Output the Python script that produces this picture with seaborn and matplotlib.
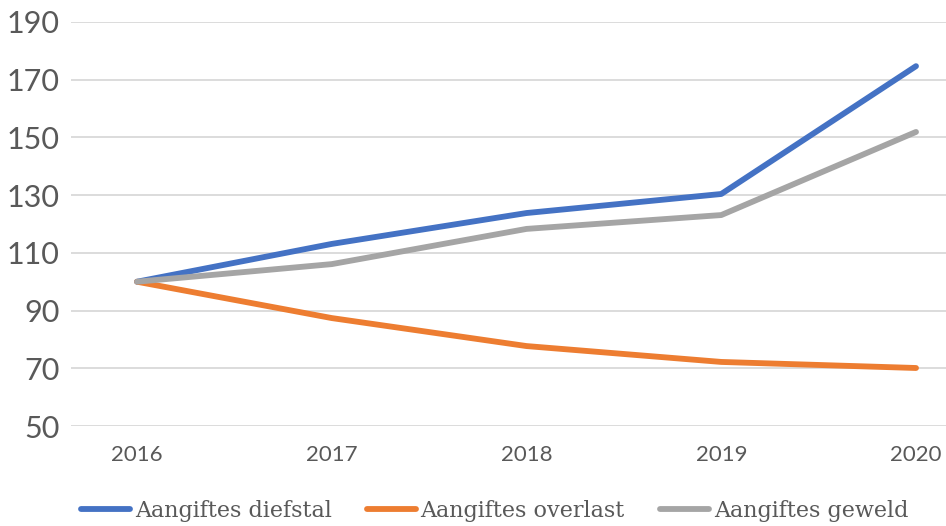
import pandas as pd
import seaborn as sns
import matplotlib.pyplot as plt

years = [2016, 2017, 2018, 2019, 2020]
diefstal = [100, 113.1, 123.8, 130.4, 174.7]
overlast = [100, 87.4, 77.7, 72.2, 70.1]
geweld = [100, 106.1, 118.3, 123.1, 151.9]
series_names = ['Aangiftes diefstal', 'Aangiftes overlast', 'Aangiftes geweld']
colors = ['#4472C4', '#ED7D31', '#A5A5A5']

df = pd.DataFrame({
    'jaar': years * 3,
    'waarde': diefstal + overlast + geweld,
    'reeks': [series_names[0]] * 5 + [series_names[1]] * 5 + [series_names[2]] * 5,
})

sns.set_style('white')
plt.rcParams['font.family'] = ['Lato', 'DejaVu Sans']
txt = '#595959'

fig = plt.figure(figsize=(9.46, 5.26), dpi=100)
ax = fig.add_axes([71 / 946, 1 - 426 / 526, 1 - 71 / 946, (426 - 22) / 526])
sns.lineplot(data=df, x='jaar', y='waarde', hue='reeks', hue_order=series_names,
             palette=colors, linewidth=4.2, ax=ax, legend=False)
for l in ax.lines:
    l.set_solid_capstyle('round')
    l.set_solid_joinstyle('round')

ax.set_ylim(50, 190)
ax.set_yticks(range(50, 191, 20))
ax.set_xlim(2016 - 0.339, 2020.154)
ax.set_xticks(years)
ax.set_xticklabels([str(y) for y in years])
ax.grid(axis='y', color='#D9D9D9', linewidth=1.3)
ax.set_axisbelow(True)
for s in ax.spines.values():
    s.set_visible(False)
ax.tick_params(axis='y', labelsize=22, colors=txt, length=0, pad=8)
ax.tick_params(axis='x', labelsize=16, colors=txt, length=0, pad=14)
ax.set_xlabel('')
ax.set_ylabel('')

handles = [plt.Line2D([], [], color=c, linewidth=4.2, solid_capstyle='round') for c in colors]
fig.legend(handles, series_names, loc='lower center', bbox_to_anchor=(0.523, -0.03), ncol=3,
           frameon=False, prop={'family': 'DejaVu Serif', 'size': 16}, labelcolor=txt,
           handlelength=2.2, handletextpad=0.2, columnspacing=1.6)

fig.savefig('out.png', dpi=100)
